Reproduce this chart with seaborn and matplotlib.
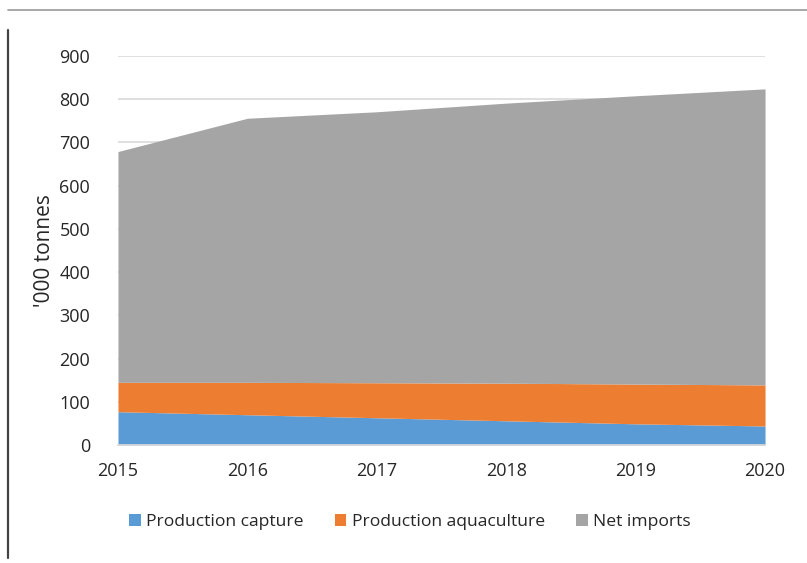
import matplotlib
matplotlib.use("Agg")
import matplotlib.pyplot as plt
from matplotlib.lines import Line2D
from matplotlib.patches import Patch
import numpy as np
import pandas as pd
import seaborn as sns

# Fish supply components, '000 tonnes
years = [2015, 2016, 2017, 2018, 2019, 2020]
production_capture = [77, 70, 63, 56, 49, 44]
production_aquaculture = [68, 75, 81, 87, 92, 95]
net_imports = [534, 611, 627, 648, 667, 685]

series_names = ["Production capture", "Production aquaculture", "Net imports"]
series_colors = ["#5B9BD5", "#ED7D31", "#A5A5A5"]
y_ticks = [0, 100, 200, 300, 400, 500, 600, 700, 800, 900]

df = pd.DataFrame({
    "year": years,
    series_names[0]: production_capture,
    series_names[1]: production_aquaculture,
    series_names[2]: net_imports,
})

sns.set_theme(style="white")
plt.rcParams["font.family"] = ["Open Sans", "DejaVu Sans"]

fig = plt.figure(figsize=(8.07, 5.63), dpi=100)
ax = fig.add_axes([0.1462, 0.2096, 0.948 - 0.1462, 0.9005 - 0.2096])

palette = sns.color_palette(series_colors)
ax.stackplot(df["year"], *[df[n] for n in series_names],
             colors=palette, labels=series_names, linewidth=0)

ax.set_xlim(years[0], years[-1])
ax.set_ylim(0, 900)
ax.set_yticks(y_ticks)
ax.set_xticks(years)
ax.yaxis.grid(True, color="#d9d9d9", linewidth=1.2, zorder=0)
ax.set_axisbelow(True)
for s in ["top", "right", "left"]:
    ax.spines[s].set_visible(False)
ax.spines["bottom"].set_color("#d9d9d9")

ax.tick_params(axis="y", length=0, pad=20, labelsize=13, labelcolor="#262626")
ax.tick_params(axis="x", length=5, width=1, color="#d9d9d9", direction="out",
               pad=7, labelsize=13, labelcolor="#262626")
ax.set_ylabel("'000 tonnes", fontsize=15, color="#262626", labelpad=3)

handles = [Patch(facecolor=c, edgecolor="none") for c in series_colors]
fig.legend(handles, series_names, loc="center", bbox_to_anchor=(0.508, 0.073),
           ncol=3, frameon=False, fontsize=12.6, handlelength=0.65,
           handleheight=0.65, handletextpad=0.3, columnspacing=1.8)

# thin frame fragments around the chart
fig.add_artist(Line2D([8 / 807, 1.0], [1 - 10 / 563] * 2, color="#999999", linewidth=1.2))
fig.add_artist(Line2D([7.5 / 807] * 2, [1 - 30 / 563, 1 - 558 / 563], color="#444444", linewidth=1.6))

fig.savefig("out.png", dpi=100)
